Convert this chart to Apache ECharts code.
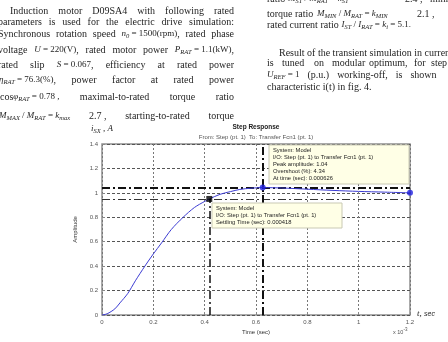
<!DOCTYPE html>
<html>
<head>
<meta charset="utf-8">
<script src="https://cdn.jsdelivr.net/npm/echarts@6/dist/echarts.min.js"></script>
<style>
  html, body { margin: 0; padding: 0; background: #fff; }
  #chart { width: 448px; height: 342px; }
</style>
</head>
<body>
<div id="chart"></div>
<script>
// step response of the current loop, time axis in units of 1e-3 sec
var timeMs = [0, 0.02, 0.05, 0.07, 0.1, 0.13, 0.167, 0.2, 0.232, 0.27, 0.316, 0.36, 0.4, 0.418,
  0.46, 0.5, 0.537, 0.58, 0.626, 0.7, 0.8, 0.9, 1.0, 1.1, 1.2];
var amplitude = [0, 0.01, 0.05, 0.099, 0.175, 0.28, 0.4, 0.5, 0.59, 0.7, 0.8, 0.88, 0.93, 0.95,
  0.988, 1.01, 1.028, 1.038, 1.043, 1.04, 1.03, 1.02, 1.012, 1.006, 1.0];
var peakPoint = [0.626, 1.043];
var settlePoint = [0.418, 0.95];
var endPoint = [1.2, 1.0];

var serif = 'Liberation Serif';
var sans = 'Liberation Sans';
var ink = '#1e1e1e';

var rich = {
  m: { fontFamily: serif, fontSize: 9, fill: ink },
  i: { fontFamily: serif, fontStyle: 'italic', fontSize: 9, fill: ink },
  s: { fontFamily: serif, fontStyle: 'italic', fontSize: 6.5, fill: ink, padding: [5, 0, 0, 0] },
  u: { fontFamily: sans, fontStyle: 'italic', fontSize: 7, fill: ink }
};

function txt(x, y, s) {
  return {
    type: 'text', x: x, y: y, z: 50,
    style: { text: s, rich: rich, fontFamily: serif, fontSize: 10, fill: ink, verticalAlign: 'middle' }
  };
}

function measure(s) {
  try {
    return new echarts.graphic.Text({ style: { text: s, rich: rich, fontFamily: serif, fontSize: 10 } })
      .getBoundingRect().width;
  } catch (e) {
    return s.replace(/\{\w\||\}/g, '').length * 4.6;
  }
}

// justified line between x0 and x1
function justify(y, x0, x1, words) {
  var w = words.map(measure);
  var total = w.reduce(function (a, b) { return a + b; }, 0);
  var gap = (x1 - x0 - total) / (words.length - 1);
  var x = x0;
  return words.map(function (s, k) { var el = txt(x, y, s); x += w[k] + gap; return el; });
}

// words with a fixed gap
function flow(y, x0, gap, words) {
  var x = x0;
  return words.map(function (s) { var el = txt(x, y, s); x += measure(s) + gap; return el; });
}

// pieces at given x
function fixed(y, pieces) {
  return pieces.map(function (p) { return txt(p[0], y, p[1]); });
}

var bodyText = [].concat(
  justify(11, 10, 234, ['Induction', 'motor', 'D09SA4', 'with', 'following', 'rated']),
  justify(22, -2, 234, ['parameters', 'is', 'used', 'for', 'the', 'electric', 'drive', 'simulation:']),
  justify(34, -2, 234, ['Synchronous', 'rotation', 'speed', '{i|n}{s|0}{m| = 1500(rpm)},', 'rated', 'phase']),
  justify(50, -2, 234, ['voltage', '{i|U}{m| = 220(V)},', 'rated', 'motor', 'power', '{i|P}{s|RAT}{m| = 1.1(kW)},']),
  justify(65, -2, 234, ['rated', 'slip', '{i|S}{m| = 0.067},', 'efficiency', 'at', 'rated', 'power']),
  justify(80, -1, 234, ['{i|η}{s|RAT}{m| = 76.3(%)},', 'power', 'factor', 'at', 'rated', 'power']),
  justify(97, 0, 234, ['cos{i|φ}{s|RAT}{m| = 0.78 ,}', 'maximal-to-rated', 'torque', 'ratio']),
  justify(116, -1, 234, ['{i|M}{s|MAX}{m| / }{i|M}{s|RAT}{m| = }{i|k}{s|max}', '2.7 ,', 'starting-to-rated', 'torque']),
  fixed(-1, [[267, 'ratio'], [288, '{i|M}{s|ST}{m| / }{i|M}{s|RAT}{m| = }{i|k}{s|ST}'], [405, '2.4 ,'], [430, 'minimal']]),
  fixed(14, [[267, 'torque'], [295, 'ratio'], [317, '{i|M}{s|MIN}{m| / }{i|M}{s|RAT}{m| = }{i|k}{s|MIN}'], [417, '2.1 ,']]),
  flow(25, 267, 2.6, ['rated', 'current', 'ratio', '{i|I}{s|ST}{m| / }{i|I}{s|RAT}{m| = }{i|k}{s|i}{m| = 5.1.}']),
  flow(53, 279, 2.5, ['Result', 'of', 'the', 'transient', 'simulation', 'in', 'current']),
  fixed(63, [[267, 'is'], [282, 'tuned'], [314, 'on'], [332, 'modular'], [369, 'optimum,'], [414, 'for'], [431, 'step']]),
  flow(75, 267, 8, ['{i|U}{s|REF}{m| = 1}', '(p.u.)', 'working-off,', 'is', 'shown']),
  flow(87, 267, 2.5, ['characteristic', 'i(t)', 'in', 'fig.', '4.']),
  fixed(129, [[91, '{i|i}{s|SX}{m| , }{i|A}']]),
  fixed(314, [[417, '{i|t}{m|, }{u|sec}']])
);

// MATLAB data tips
function dataTip(x, y, w, lines) {
  var els = [{
    type: 'rect', z: 60,
    shape: { x: x, y: y, width: w, height: lines.length * 7 + 4 },
    style: { fill: '#ffffe6', stroke: '#c9c9b4', lineWidth: 1 }
  }];
  lines.forEach(function (t, k) {
    els.push({
      type: 'text', x: x + 4, y: y + 5.5 + k * 7, z: 61,
      style: { text: t, fontFamily: sans, fontSize: 5.8, fill: '#222', verticalAlign: 'middle' }
    });
  });
  return els;
}

var tips = [].concat(
  dataTip(269, 145, 140, ['System: Model', 'I/O: Step (pt. 1) to Transfer Fcn1 (pt. 1)',
    'Peak amplitude: 1.04', 'Overshoot (%): 4.34', 'At time (sec): 0.000626']),
  dataTip(212, 203, 130, ['System: Model', 'I/O: Step (pt. 1) to Transfer Fcn1 (pt. 1)',
    'Settling Time (sec): 0.000418'])
);

var headings = [
  { type: 'text', x: 256, y: 127, z: 50, style: { text: 'Step Response', fontFamily: sans, fontWeight: 'bold', fontSize: 6.5, fill: '#222', align: 'center', verticalAlign: 'middle' } },
  { type: 'text', x: 256, y: 137, z: 50, style: { text: 'From: Step (pt. 1)  To: Transfer Fcn1 (pt. 1)', fontFamily: sans, fontSize: 6, fill: '#555', align: 'center', verticalAlign: 'middle' } },
  { type: 'text', x: 393, y: 332, z: 50, style: { text: 'x 10{e|-3}', rich: { e: { fontSize: 4.5, fill: '#555', padding: [0, 0, 4, 0] } }, fontFamily: sans, fontSize: 5.5, fill: '#555', verticalAlign: 'middle' } }
];

var curve = timeMs.map(function (t, k) { return [t, amplitude[k]]; });

var chart = echarts.init(document.getElementById('chart'));
chart.setOption({
  animation: false,
  grid: { left: 102, right: 38, top: 144, bottom: 27, show: true, borderColor: '#8f8f8f', borderWidth: 1.5, outerBoundsMode: 'none' },
  xAxis: {
    type: 'value', min: 0, max: 1.2, interval: 0.2,
    name: 'Time (sec)', nameLocation: 'middle', nameGap: 14,
    nameTextStyle: { fontFamily: sans, fontSize: 6, color: '#333' },
    axisLine: { show: false },
    axisTick: { show: true, inside: true, length: 3, lineStyle: { color: '#888' } },
    axisLabel: { fontFamily: sans, fontSize: 6, color: '#555', margin: 4,
      formatter: function (v) { return String(+v.toFixed(1)); } },
    splitLine: { show: true, lineStyle: { color: '#777', type: [2, 2], width: 1 } }
  },
  yAxis: {
    type: 'value', min: 0, max: 1.4, interval: 0.2,
    name: 'Amplitude', nameLocation: 'middle', nameGap: 21,
    nameTextStyle: { fontFamily: sans, fontSize: 6, color: '#333' },
    axisLine: { show: false },
    axisTick: { show: true, inside: true, length: 3, lineStyle: { color: '#888' } },
    axisLabel: { fontFamily: sans, fontSize: 6, color: '#555', margin: 4,
      formatter: function (v) { return String(+v.toFixed(1)); } },
    splitLine: { show: true, lineStyle: { color: '#555', type: [3, 2], width: 1 } }
  },
  series: [
    {
      name: 'step', type: 'line', data: curve, smooth: 0.3, showSymbol: false,
      lineStyle: { color: '#3c3cd2', width: 1 }, z: 5,
      markLine: {
        silent: true, symbol: 'none', label: { show: false },
        data: [
          [{ coord: [0, peakPoint[1]], lineStyle: { color: '#111', width: 2, type: [8, 3, 2, 3] } }, { coord: [1.2, peakPoint[1]] }],
          [{ coord: [0, settlePoint[1]], lineStyle: { color: '#333', width: 1, type: [8, 3, 2, 3] } }, { coord: [1.2, settlePoint[1]] }],
          [{ coord: [peakPoint[0], 0], lineStyle: { color: '#111', width: 2, type: [8, 3, 2, 3] } }, { coord: [peakPoint[0], 1.4] }],
          [{ coord: [settlePoint[0], 0], lineStyle: { color: '#111', width: 1.5, type: [8, 3, 2, 3] } }, { coord: [settlePoint[0], settlePoint[1]] }]
        ]
      }
    },
    {
      name: 'markers', type: 'scatter', z: 10,
      data: [
        { value: settlePoint, symbol: 'rect', symbolSize: 6, itemStyle: { color: '#000' } },
        { value: peakPoint, symbol: 'circle', symbolSize: 6, itemStyle: { color: '#1f1fe0' } },
        { value: endPoint, symbol: 'circle', symbolSize: 6, itemStyle: { color: '#1f1fe0' } }
      ]
    }
  ],
  graphic: bodyText.concat(tips, headings)
});
</script>
</body>
</html>
